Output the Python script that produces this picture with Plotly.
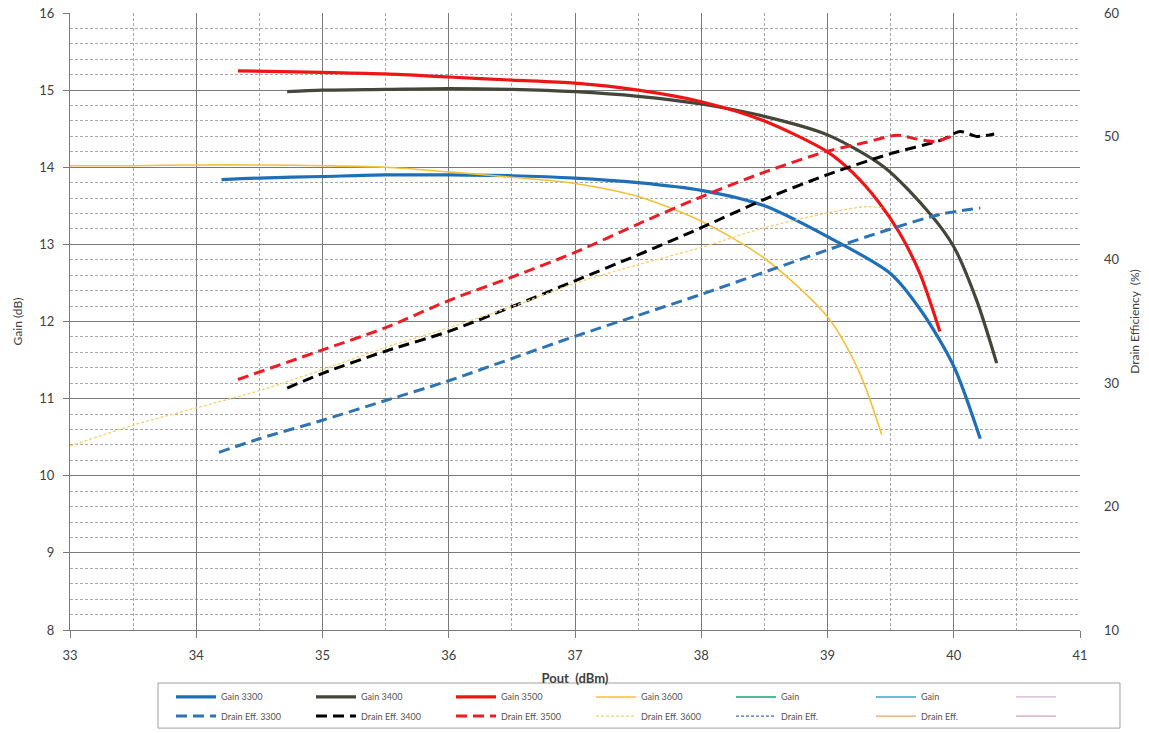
import plotly.graph_objects as go

# ---- Gain (dB) versus output power (dBm), one sweep per frequency (MHz) ----
pout_g3300 = [34.2, 34.5, 35.0, 35.5, 36.0, 36.5, 37.0, 37.5, 38.0, 38.5, 39.0, 39.5, 39.75, 40.0, 40.21]
gain_3300 = [13.84, 13.86, 13.88, 13.90, 13.90, 13.89, 13.86, 13.80, 13.70, 13.50, 13.10, 12.62, 12.12, 11.42, 10.48]

pout_g3400 = [34.72, 35.0, 35.5, 36.0, 36.5, 37.0, 37.5, 38.0, 38.5, 39.0, 39.45, 39.81, 40.0, 40.18, 40.34]
gain_3400 = [14.98, 15.00, 15.01, 15.02, 15.01, 14.98, 14.92, 14.82, 14.66, 14.42, 14.00, 13.40, 12.97, 12.28, 11.46]

pout_g3500 = [34.33, 35.0, 35.5, 36.0, 36.5, 37.0, 37.5, 38.0, 38.5, 39.0, 39.2, 39.4, 39.57, 39.73, 39.89]
gain_3500 = [15.25, 15.23, 15.21, 15.17, 15.13, 15.09, 15.00, 14.85, 14.60, 14.20, 13.93, 13.56, 13.15, 12.63, 11.87]

pout_g3600 = [33.0, 33.5, 34.0, 34.5, 35.0, 35.5, 36.0, 36.5, 37.0, 37.5, 38.0, 38.5, 39.0, 39.25, 39.43]
gain_3600 = [14.02, 14.02, 14.03, 14.03, 14.02, 14.00, 13.94, 13.87, 13.79, 13.62, 13.30, 12.82, 12.06, 11.35, 10.53]

# ---- Drain efficiency (%) versus output power (dBm) ----
pout_d3300 = [34.18, 34.5, 35.0, 35.5, 36.0, 36.5, 37.0, 37.5, 38.0, 38.5, 39.0, 39.5, 39.9, 40.21]
eff_3300 = [24.4, 25.5, 27.0, 28.6, 30.2, 32.0, 33.8, 35.5, 37.2, 39.0, 40.8, 42.5, 43.7, 44.2]

pout_d3400 = [34.72, 35.0, 35.5, 36.0, 36.5, 37.0, 37.5, 38.0, 38.5, 39.0, 39.5, 39.9, 40.05, 40.18, 40.32]
eff_3400 = [29.6, 30.8, 32.6, 34.2, 36.2, 38.3, 40.4, 42.6, 44.9, 46.9, 48.6, 49.7, 50.4, 50.0, 50.2]

pout_d3500 = [34.33, 35.0, 35.5, 36.0, 36.5, 37.0, 37.5, 38.0, 38.5, 39.0, 39.3, 39.55, 39.7, 39.85, 39.98]
eff_3500 = [30.3, 32.7, 34.5, 36.7, 38.6, 40.6, 42.9, 45.1, 47.1, 48.8, 49.5, 50.1, 49.8, 49.6, 50.0]

pout_d3600 = [33.0, 33.5, 34.0, 34.5, 35.0, 35.5, 36.0, 36.5, 37.0, 37.5, 38.0, 38.5, 39.0, 39.3, 39.45]
eff_3600 = [24.9, 26.6, 28.0, 29.4, 31.1, 32.9, 34.5, 36.2, 38.1, 39.6, 41.0, 42.6, 43.8, 44.3, 44.2]

# Legend rows: names of the gain row and the efficiency row
gain_names = ["Gain 3300", "Gain 3400", "Gain 3500", "Gain 3600", "Gain", "Gain", " "]
eff_names = ["Drain Eff. 3300", "Drain Eff. 3400", "Drain Eff. 3500", "Drain Eff. 3600", "Drain Eff.", "Drain Eff.", " "]

FONT = "Lato, 'Open Sans', sans-serif"
DASH = "11px,6px"
EMPTY = [None]  # series with no measurements, listed in the legend only

fig = go.Figure()

gain_series = [
    (pout_g3300, gain_3300, "#1f6fb8", 3.2, "solid"),
    (pout_g3400, gain_3400, "#45453a", 3.2, "solid"),
    (pout_g3500, gain_3500, "#ee1515", 3.2, "solid"),
    (pout_g3600, gain_3600, "#f2c13a", 1.6, "solid"),
    (EMPTY, EMPTY, "#13a37a", 1.5, "solid"),
    (EMPTY, EMPTY, "#3fa3c8", 1.5, "solid"),
    (EMPTY, EMPTY, "#c9a3c6", 1.0, "solid"),
]
for (x, y, c, w, d), name in zip(gain_series, gain_names):
    fig.add_trace(go.Scatter(
        x=x, y=y, name=name, mode="lines", legend="legend", showlegend=True,
        line=dict(color=c, width=w, dash=d, shape="spline", smoothing=0.8),
    ))

eff_series = [
    (pout_d3300, eff_3300, "#2f74b2", 3.0, DASH),
    (pout_d3400, eff_3400, "#000000", 3.0, DASH),
    (pout_d3500, eff_3500, "#ee1c25", 3.0, DASH),
    (pout_d3600, eff_3600, "#f5d26e", 1.3, "3px,2px"),
    (EMPTY, EMPTY, "#3f6fa8", 1.2, "3px,2px"),
    (EMPTY, EMPTY, "#f0a35a", 1.2, "solid"),
    (EMPTY, EMPTY, "#c08db0", 1.0, "solid"),
]
for (x, y, c, w, d), name in zip(eff_series, eff_names):
    fig.add_trace(go.Scatter(
        x=x, y=y, name=name, mode="lines", yaxis="y2", legend="legend2", showlegend=True,
        line=dict(color=c, width=w, dash=d, shape="spline", smoothing=0.8),
    ))

legend_common = dict(
    orientation="h", xanchor="left", yanchor="middle",
    bgcolor="rgba(0,0,0,0)", borderwidth=0,
    font=dict(family=FONT, size=9, color="#555555"),
    itemwidth=40, entrywidth=85, entrywidthmode="pixels",
    itemclick=False, itemdoubleclick=False,
)

fig.update_layout(
    width=1149, height=733,
    margin=dict(l=70, r=69, t=13, b=103, pad=0, autoexpand=False),
    paper_bgcolor="white", plot_bgcolor="white",
    font=dict(family=FONT, size=13, color="#404040"),
    showlegend=True,
    legend=dict(x=0.100, y=-0.1085, **legend_common),
    legend2=dict(x=0.100, y=-0.1395, **legend_common),
    xaxis=dict(
        range=[33, 41], dtick=1, tick0=33,
        showgrid=True, gridcolor="#7a7a7a", gridwidth=1,
        minor=dict(dtick=0.5, showgrid=True, gridcolor="#a8a8a8", griddash="3px,2px", gridwidth=1),
        showline=True, linecolor="#7a7a7a", linewidth=1,
        ticks="outside", ticklen=7, tickcolor="#7a7a7a", ticklabelstandoff=6,
        zeroline=False,
        title=dict(text="<b>Pout  (dBm)</b>", standoff=12, font=dict(size=13, color="#404040")),
    ),
    yaxis=dict(
        range=[8, 16], dtick=1, tick0=8,
        showgrid=True, gridcolor="#7a7a7a", gridwidth=1,
        minor=dict(dtick=0.2, showgrid=True, gridcolor="#a8a8a8", griddash="3px,2px", gridwidth=1),
        showline=True, linecolor="#7a7a7a", linewidth=1,
        ticks="outside", ticklen=6, tickcolor="#7a7a7a", ticklabelstandoff=6,
        zeroline=False,
        title=dict(text="Gain (dB)", standoff=14, font=dict(size=12, color="#404040")),
    ),
    yaxis2=dict(
        range=[10, 60], dtick=10, tick0=10,
        overlaying="y", side="right",
        showgrid=False, showline=False, zeroline=False,
        ticks="", ticklabelstandoff=23,
        title=dict(text="Drain Efficiency  (%)", standoff=12, font=dict(size=12, color="#404040")),
    ),
    shapes=[dict(
        type="rect", xref="paper", yref="paper",
        x0=0.0871, x1=1.0396, y0=-0.0859, y1=-0.159,
        line=dict(color="#a0a0a0", width=1), fillcolor="white", layer="below",
    )],
)

fig.write_html("out.html")
